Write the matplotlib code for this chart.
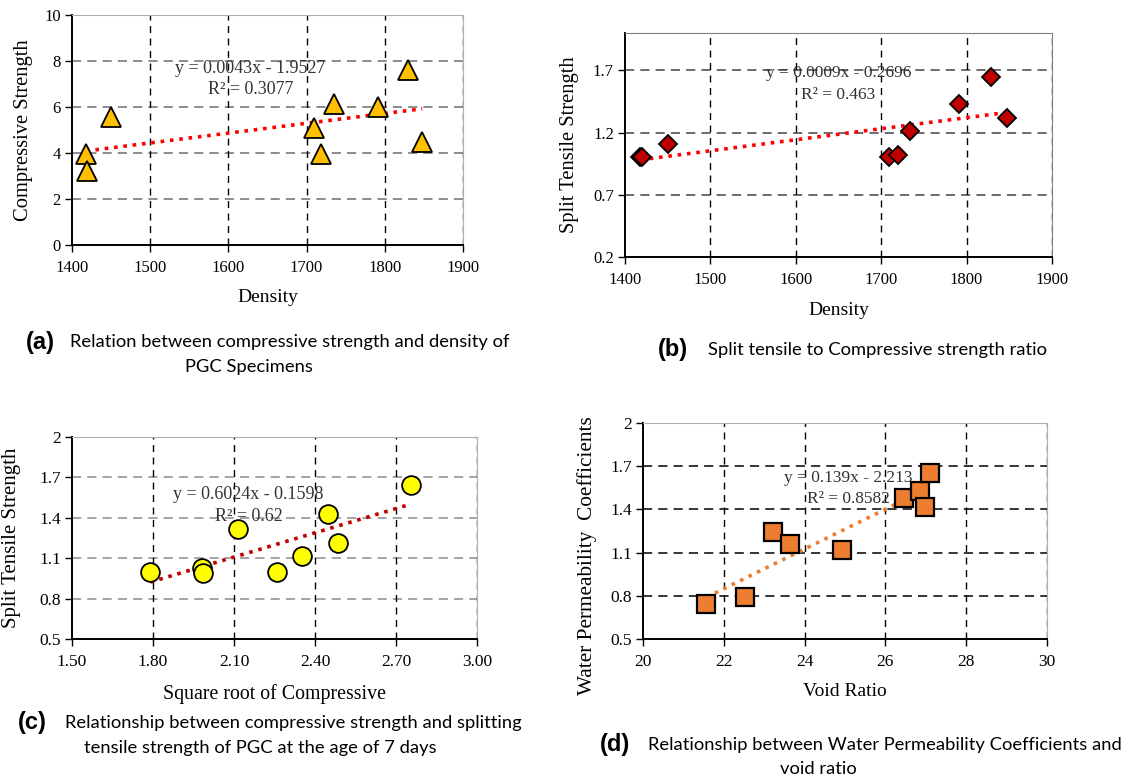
import numpy as np
import matplotlib.pyplot as plt
from matplotlib.ticker import FixedLocator

# (a) compressive strength vs density
dens_a = [1418, 1419, 1450, 1709, 1719, 1735, 1791, 1830, 1848]
comp_a = [3.95, 3.2, 5.55, 5.1, 3.95, 6.15, 6.0, 7.6, 4.5]

# (b) split tensile vs density
dens_b = [1418, 1420, 1450, 1709, 1720, 1734, 1791, 1829, 1847]
tens_b = [1.00, 1.00, 1.11, 1.00, 1.02, 1.21, 1.43, 1.65, 1.32]

# (c) split tensile vs sqrt of compressive
sqrt_c = [1.79, 1.981, 1.984, 2.116, 2.258, 2.352, 2.450, 2.486, 2.755]
tens_c = [1.00, 1.03, 0.99, 1.32, 1.00, 1.115, 1.425, 1.215, 1.645]

# (d) water permeability vs void ratio
void_d = [21.57, 22.52, 23.22, 23.63, 24.93, 26.45, 26.86, 26.99, 27.11]
perm_d = [0.74, 0.79, 1.24, 1.16, 1.12, 1.48, 1.53, 1.42, 1.65]

serif = 'Liberation Serif'
W, H = 1137, 776
fig = plt.figure(figsize=(W / 100, H / 100), dpi=100)


def box(l, t, r, b):
    return [l / W, 1 - b / H, (r - l) / W, (b - t) / H]


def style(ax, xt, yt, xlim, ylim, xfmt, yfmt, tsize, hgrid, vgrid):
    ax.set_xlim(*xlim)
    ax.set_ylim(*ylim)
    ax.xaxis.set_major_locator(FixedLocator(xt))
    ax.yaxis.set_major_locator(FixedLocator(yt))
    ax.set_xticklabels([xfmt.format(v) for v in xt], fontfamily=serif, fontsize=tsize)
    ax.set_yticklabels([yfmt.format(v) for v in yt], fontfamily=serif, fontsize=tsize)
    ax.tick_params(direction='out', length=5, width=1, colors='black')
    ax.tick_params(axis='x', pad=6)
    ax.tick_params(axis='y', pad=3)
    for v in yt[1:]:
        ax.axhline(v, color=hgrid, lw=1.1, dashes=(6, 4), zorder=1)
    for v in xt[1:]:
        ax.axvline(v, color=vgrid, lw=1.0, dashes=(5, 4), zorder=1)
    for s in ['left', 'bottom']:
        ax.spines[s].set_linewidth(1.4)
        ax.spines[s].set_color('black')
    for s in ['top', 'right']:
        ax.spines[s].set_linewidth(0.8)
        ax.spines[s].set_color('#b0b0b0')


def trend(ax, x, y, color):
    k, b = np.polyfit(x, y, 1)
    xs = np.array([min(x), max(x)])
    ax.plot(xs, k * xs + b, linestyle=(0, (1, 1.6)), lw=2.6, color=color, zorder=2)


def eq(ax, x, y1, y2, s1, s2, size):
    for y, s in ((y1, s1), (y2, s2)):
        ax.text(x, y, s, ha='center', va='center', fontfamily=serif,
                fontsize=size, color='#333333', zorder=2.5)


# ---- (a)
ax = fig.add_axes(box(72, 15, 463, 245))
style(ax, [1400, 1500, 1600, 1700, 1800, 1900], [0, 2, 4, 6, 8, 10],
      (1400, 1900), (0, 10), '{:d}', '{:d}', 12, '#6e6e6e', 'black')
trend(ax, dens_a, comp_a, '#ff0000')
ax.plot(dens_a, comp_a, '^', ms=14, mfc='#ffc000', mec='black', mew=1.3, zorder=3)
eq(ax, 1628, 7.68, 6.77, 'y = 0.0043x - 1.9527', 'R² = 0.3077', 13)
ax.set_xlabel('Density', fontfamily=serif, fontsize=14, labelpad=9)
ax.set_ylabel('Compressive Strength', fontfamily=serif, fontsize=14.8, labelpad=8)

# ---- (b)
ax = fig.add_axes(box(625, 33, 1052, 257))
style(ax, [1400, 1500, 1600, 1700, 1800, 1900], [0.2, 0.7, 1.2, 1.7],
      (1400, 1900), (0.2, 2.0), '{:d}', '{:.1f}', 12, '#444444', 'black')
ax.spines['top'].set_color('#808080')
ax.spines['right'].set_color('#808080')
trend(ax, dens_b, tens_b, '#ff0000')
ax.plot(dens_b, tens_b, 'D', ms=9.5, mfc='#c00000', mec='black', mew=1.3, zorder=3)
eq(ax, 1650, 1.68, 1.50, 'y = 0.0009x - 0.2696', 'R² = 0.463', 12.5)
ax.set_xlabel('Density', fontfamily=serif, fontsize=14, labelpad=10)
ax.set_ylabel('Split Tensile Strength', fontfamily=serif, fontsize=14.8, labelpad=10)

# ---- (c)
ax = fig.add_axes(box(72, 437, 477, 639))
style(ax, [1.5, 1.8, 2.1, 2.4, 2.7, 3.0], [0.5, 0.8, 1.1, 1.4, 1.7, 2.0],
      (1.5, 3.0), (0.5, 2.0), '{:.2f}', '{:g}', 12.5, '#8c8c8c', 'black')
trend(ax, sqrt_c, tens_c, '#c00000')
ax.plot(sqrt_c, tens_c, 'o', ms=13.5, mfc='#ffff00', mec='black', mew=1.3, zorder=3)
eq(ax, 2.154, 1.572, 1.406, 'y = 0.6024x - 0.1598', 'R² = 0.62', 13)
ax.set_xlabel('Square root of Compressive', fontfamily=serif, fontsize=14.3, labelpad=10)
ax.set_ylabel('Split Tensile Strength', fontfamily=serif, fontsize=15, labelpad=13)

# ---- (d)
ax = fig.add_axes(box(643, 423, 1047, 639))
style(ax, [20, 22, 24, 26, 28, 30], [0.5, 0.8, 1.1, 1.4, 1.7, 2.0],
      (20, 30), (0.5, 2.0), '{:d}', '{:g}', 12.5, 'black', 'black')
trend(ax, void_d, perm_d, '#ed7d31')
ax.plot(void_d, perm_d, 's', ms=12.5, mfc='#ed7d31', mec='black', mew=1.6, zorder=3)
eq(ax, 25.09, 1.621, 1.475, 'y = 0.139x - 2.213', 'R² = 0.8582', 12.5)
ax.set_xlabel('Void Ratio', fontfamily=serif, fontsize=14, labelpad=9)
ax.set_ylabel('Water Permeability  Coefficients', fontfamily=serif, fontsize=15.3, labelpad=9)
ax.yaxis.set_label_coords(-0.115, 0.385)


# ---- captions
def cap(x, y, s, **kw):
    fig.text(x / W, 1 - y / H, s, va='center', **kw)


lab = dict(fontfamily='Liberation Sans', fontweight='bold', fontsize=17)
txt = dict(fontfamily='Lato', fontsize=13.2)
cap(26, 342, '(a)', **lab)
cap(70, 342, 'Relation between compressive strength and density of', **txt)
cap(249, 367, 'PGC Specimens', ha='center', **txt)
cap(658, 350, '(b)', **lab)
cap(708, 350, 'Split tensile to Compressive strength ratio', **txt)
cap(18, 723, '(c)', **lab)
cap(65, 723, 'Relationship between compressive strength and splitting', **txt)
cap(84, 748, 'tensile strength of PGC at the age of 7 days', **txt)
cap(600, 745, '(d)', **lab)
cap(648, 745, 'Relationship between Water Permeability Coefficients and', **txt)
cap(818, 769, 'void ratio', ha='center', **txt)

fig.savefig('out.png', dpi=100)
